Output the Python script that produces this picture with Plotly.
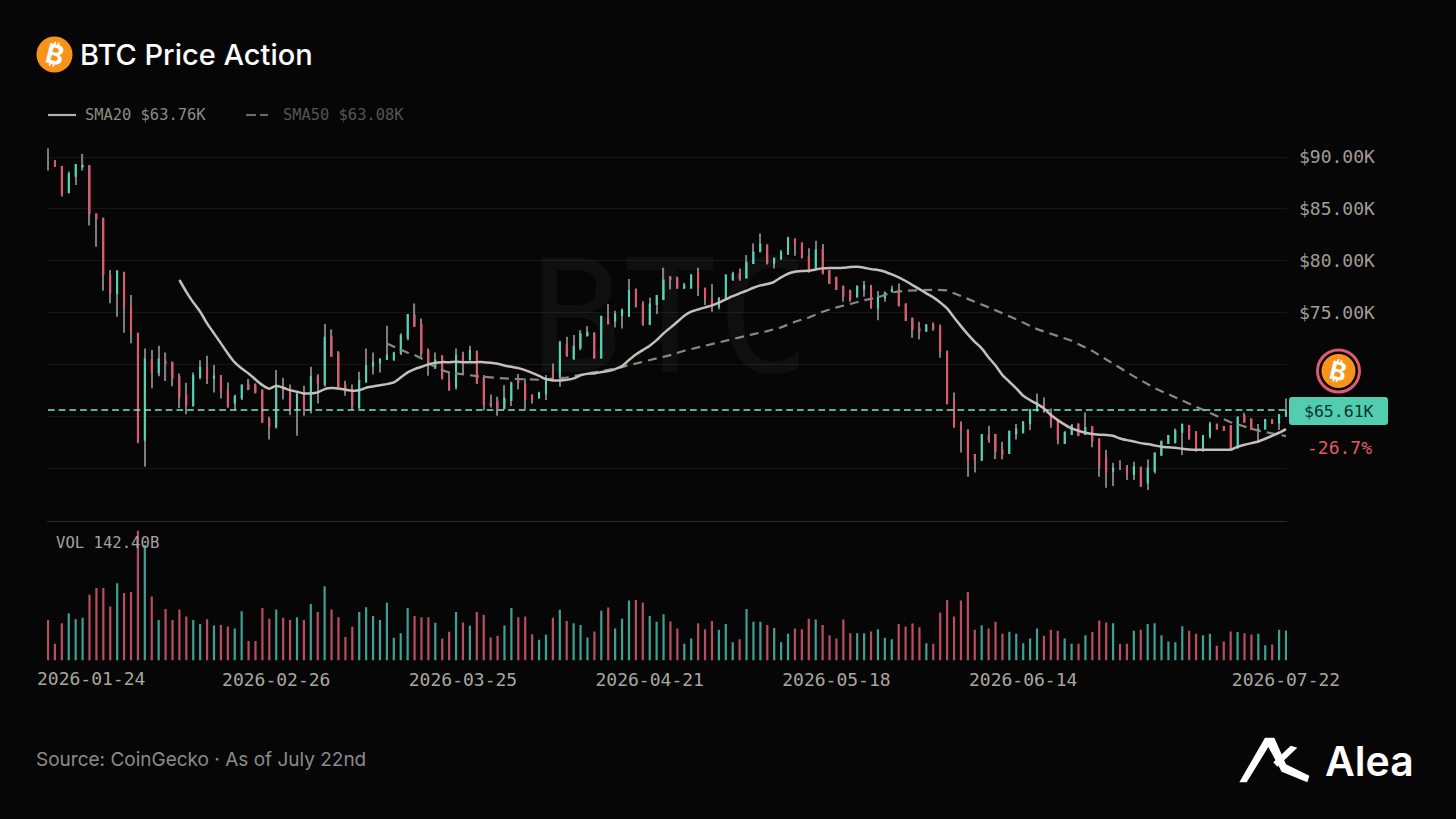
import pandas as pd
import plotly.graph_objects as go

# ---------- data (USD thousands; volume in USD billions) ----------
dates = pd.date_range("2026-01-24", "2026-07-22", freq="D")

opens = [
 89.45,89.65,89.13,86.5,88.1,89.0,89.2,84.56,84.15,78.68,
 76.8,78.88,75.66,73.05,62.64,70.5,69.13,70.35,70.26,68.88,
 67.04,66.0,68.71,69.77,68.62,68.97,67.52,66.24,66.72,68.07,
 68.07,67.59,64.79,63.92,67.91,67.46,65.6,67.2,65.66,68.81,
 68.01,72.73,71.15,68.07,67.52,65.75,68.26,69.77,70.09,70.42,
 70.42,71.06,72.5,74.82,73.89,71.38,69.61,70.83,68.39,67.75,
 70.96,70.42,71.32,68.81,66.3,66.49,65.69,66.46,68.65,68.16,
 67.04,66.72,67.13,69.29,68.71,71.96,70.51,71.54,72.73,73.08,
 70.58,74.43,74.11,74.66,74.6,77.26,75.88,73.79,75.72,76.2,
 78.45,78.39,77.33,77.33,78.94,77.39,76.36,75.5,76.36,78.13,
 78.78,78.29,79.68,80.87,81.57,79.74,80.13,80.61,82.15,81.67,
 80.45,79.26,81.12,79.1,78.45,77.59,77.17,76.46,77.23,77.65,
 75.4,76.36,77.0,77.23,75.88,74.5,73.57,73.15,73.89,73.69,
 71.32,66.65,64.24,63.73,61.35,60.7,63.18,63.28,61.8,61.35,
 63.25,63.35,64.25,65.53,66.24,65.37,64.57,62.32,63.19,64.31,
 63.19,64.05,62.86,61.1,59.65,59.91,60.13,59.33,60.13,58.52,
 59.65,61.19,62.32,62.45,63.41,64.15,63.44,61.9,63.03,64.25,
 64.05,64.15,61.9,65.1,64.79,63.6,63.73,64.7,64.31,64.96]

closes = [
 89.25,89.07,86.33,88.42,89.33,89.23,84.5,84.0,78.6,76.85,
 79.04,75.56,73.05,62.54,70.58,69.2,70.58,70.03,68.65,66.82,
 66.08,68.97,69.77,68.58,68.94,67.3,65.92,66.98,68.07,67.59,
 67.27,64.37,63.99,67.91,67.46,65.66,67.14,65.6,68.88,68.17,
 72.67,70.74,67.85,67.36,65.92,68.49,69.93,70.25,70.58,70.96,
 71.15,72.83,74.85,73.63,71.06,69.93,70.48,68.58,67.52,70.9,
 70.42,71.38,68.17,66.08,66.01,65.75,66.78,68.26,68.2,66.56,
 66.56,67.3,68.71,68.58,72.18,70.8,71.8,73.0,73.15,70.58,
 74.66,73.89,74.92,75.24,77.17,75.5,73.79,75.88,76.69,78.2,
 78.13,77.33,77.71,78.68,77.33,76.2,75.72,76.46,78.68,78.78,
 78.23,79.9,80.87,81.67,79.74,80.29,80.87,82.25,81.51,80.29,
 79.1,81.09,78.78,77.75,77.17,76.52,76.2,77.59,77.65,75.4,
 76.52,77.0,77.26,75.62,74.18,73.31,73.15,73.86,73.37,71.22,
 66.17,63.92,63.66,60.77,60.77,63.28,62.7,61.57,61.26,63.6,
 63.83,64.47,65.69,66.4,65.37,64.31,62.77,63.51,64.15,63.09,
 63.93,62.54,59.97,59.55,60.07,59.81,59.33,60.2,58.2,60.07,
 61.51,62.64,63.19,63.67,64.25,62.77,61.9,63.19,64.31,63.73,
 63.6,61.74,64.95,64.38,63.67,63.83,64.73,64.25,65.21,65.61]

highs = [
 90.84,89.72,89.13,88.6,89.33,90.3,89.2,84.56,84.15,79.1,
 79.1,78.94,76.7,73.05,71.54,71.4,71.8,71.15,70.26,69.13,
 68.23,69.23,70.4,70.84,69.94,68.97,68.26,67.07,68.07,68.59,
 68.17,67.59,64.95,69.45,68.71,68.07,67.36,67.94,69.77,69.04,
 73.89,73.38,71.28,68.43,68.07,69.29,71.54,71.15,70.58,73.73,
 71.22,73.0,74.85,75.88,74.43,71.54,71.15,70.9,69.35,71.54,
 71.22,71.8,71.32,68.97,67.1,66.88,68.0,68.33,69.07,68.65,
 67.13,67.36,68.97,70.09,72.28,72.67,72.83,73.31,73.69,73.08,
 74.7,75.82,75.17,75.4,78.23,77.33,76.1,76.46,76.69,79.32,
 78.52,78.45,77.87,78.7,79.32,77.39,77.75,76.46,78.68,78.94,
 79.26,80.54,81.67,82.63,81.57,80.29,81.03,82.31,82.15,81.77,
 81.19,81.93,81.6,79.1,78.45,77.59,77.2,77.62,78.04,77.65,
 77.07,77.0,77.59,77.81,75.88,74.5,74.11,73.9,74.05,73.86,
 71.32,67.3,64.53,63.73,61.35,63.3,64.08,63.28,62.54,63.6,
 64.25,64.54,65.69,67.2,66.82,65.76,64.63,63.55,64.25,64.31,
 65.37,64.05,62.86,61.74,60.52,60.77,60.29,60.61,60.13,60.84,
 61.51,62.64,63.19,63.83,64.31,64.15,63.57,63.19,64.47,64.31,
 64.05,64.15,65.0,65.34,64.79,64.25,64.73,64.7,65.21,66.72]

lows = [
 88.7,89.07,86.2,86.5,87.3,88.7,83.4,81.35,77.1,75.9,
 74.6,73.05,72.03,62.4,60.13,67.7,68.87,68.4,67.9,65.8,
 65.2,65.92,68.58,68.1,67.3,66.72,65.82,65.6,66.56,67.52,
 67.2,64.37,62.77,63.83,66.62,65.11,63.12,65.05,65.27,66.24,
 67.85,70.74,67.78,66.98,65.66,65.75,68.26,69.03,69.22,70.42,
 70.32,70.9,72.34,73.63,70.67,68.9,69.55,68.58,67.46,67.59,
 68.97,70.35,68.1,65.59,65.85,65.05,65.66,65.98,67.59,65.69,
 66.24,66.72,66.56,68.49,67.84,70.74,70.42,71.38,72.67,70.58,
 70.58,73.86,73.57,73.47,74.6,75.5,73.73,73.79,74.85,76.2,
 77.23,77.3,77.26,77.3,76.59,75.72,75.08,75.33,76.27,78.04,
 78.07,78.29,79.68,80.8,79.64,79.26,80.06,80.54,80.48,80.22,
 78.84,79.1,78.68,77.75,77.17,76.04,76.04,76.46,76.52,75.4,
 74.27,76.04,76.91,75.62,74.18,72.57,72.41,73.15,73.24,70.64,
 66.17,63.92,61.51,59.16,59.58,60.7,62.44,60.87,60.84,61.35,
 62.77,63.35,63.67,65.44,65.37,63.89,62.29,62.32,63.19,63.09,
 63.19,62.0,59.17,58.1,58.27,59.81,58.85,58.85,58.2,57.88,
 59.49,61.19,62.32,62.38,61.26,62.77,61.58,61.58,62.86,63.73,
 63.6,61.74,61.9,64.38,63.67,62.54,63.73,64.25,63.67,64.96]

volumes = [
 193,79,177,225,196,203,312,345,344,256,
 367,321,325,616,549,304,192,245,192,242,
 209,192,174,196,166,169,161,152,234,93,
 93,249,198,242,203,192,206,192,268,231,
 353,242,206,112,160,230,253,212,192,274,
 108,130,249,212,206,206,179,104,136,230,
 180,165,230,217,109,117,166,249,206,209,
 125,98,122,203,241,188,177,169,109,138,
 236,252,152,198,285,288,275,212,184,220,
 185,152,79,104,177,149,188,146,174,87,
 101,245,184,184,169,154,87,127,152,149,
 198,195,169,120,104,195,130,130,130,138,
 149,108,101,174,161,176,158,82,79,228,
 288,209,285,325,146,168,152,184,127,136,
 127,82,104,152,117,146,141,104,79,79,
 120,135,190,180,177,78,79,141,146,174,
 177,120,90,87,163,141,127,120,127,70,
 90,138,135,130,123,127,73,76,146,142.4]

sma20_days = list(range(19, 180))
sma20 = [
 78.14,77.0,75.98,75.08,73.96,72.99,72.03,71.06,70.19,69.61,
 69.13,68.55,68.0,67.65,67.94,67.75,67.52,67.36,67.2,67.2,
 67.3,67.62,67.72,67.68,67.56,67.46,67.5,67.75,67.87,68.0,
 68.1,68.26,68.74,69.23,69.55,69.77,70.0,70.16,70.22,70.22,
 70.25,70.22,70.22,70.22,70.22,70.16,70.06,69.9,69.77,69.64,
 69.45,69.19,68.9,68.58,68.45,68.45,68.52,68.65,68.94,69.1,
 69.13,69.26,69.35,69.55,69.84,70.42,70.96,71.38,71.8,72.34,
 72.99,73.55,74.11,74.69,75.08,75.3,75.5,75.69,75.95,76.27,
 76.59,76.85,77.1,77.39,77.62,77.75,77.97,78.39,78.74,78.94,
 79.0,79.03,79.16,79.26,79.29,79.29,79.32,79.39,79.42,79.32,
 79.19,79.1,78.94,78.68,78.39,78.04,77.65,77.26,76.85,76.46,
 75.98,75.4,74.53,73.69,72.89,72.18,71.54,70.67,69.9,68.97,
 68.33,67.69,66.98,66.56,66.18,65.76,65.12,64.63,64.2,63.83,
 63.6,63.41,63.28,63.22,63.19,63.12,62.86,62.7,62.57,62.41,
 62.32,62.19,62.06,62.0,61.96,61.87,61.8,61.77,61.77,61.77,
 61.77,61.77,61.77,62.06,62.25,62.41,62.57,62.83,63.12,63.41,63.76]

sma50_days = list(range(49, 91)) + [92,94,96,98,100,102,104,106,108,110,112,114,116,118,120,122,
 124,126,128,130,132,134,136,138,140,143,148,151,154,157,160,164,167,171,175,179]
sma50 = [
 72.02,71.7,71.38,71.12,70.9,70.58,70.09,69.77,69.45,69.22,
 69.13,69.0,68.94,68.87,68.81,68.74,68.68,68.65,68.61,68.58,
 68.55,68.52,68.52,68.55,68.61,68.65,68.74,68.87,69.0,69.13,
 69.26,69.35,69.45,69.58,69.74,69.93,70.09,70.22,70.38,70.58,
 70.74,70.9,
 71.32,71.64,71.96,72.28,72.67,72.92,73.21,73.57,74.11,74.53,75.08,75.5,75.82,76.2,76.46,76.94,
 77.1,77.17,77.2,77.14,76.62,76.04,75.5,74.95,74.35,73.4,72.28,71.3,70.05,68.85,67.72,66.5,65.6,64.42,63.6,63.08]

last_price = 65.61
price_grid = [60, 65, 70, 75, 80, 85, 90]
price_tick_text = ["", "", "", "$75.00K", "$80.00K", "$85.00K", "$90.00K"]
date_tick_idx = [33, 60, 87, 114, 141, 179]

# ---------- style ----------
W, H = 1456, 819
BG = "#060606"
TEAL = "#52d3b6"
RED = "#e0596e"
TEAL_V = "#3f9f93"
RED_V = "#b94d60"
WICK = "#7c7c7c"
MONO = "DejaVu Sans Mono"
SANS = "Inter"
ORANGE = "#f7931a"

def px(x): return x / W
def py(y): return 1 - y / H

PX_PER_DAY = (1286 - 48) / 179
pad = pd.Timedelta(days=1 / PX_PER_DAY)
DAY_MS = 86400000
lows_s, highs_s = pd.Series(lows), pd.Series(highs)
vol_colors = [TEAL_V if c >= o else RED_V for o, c in zip(opens, closes)]

fig = go.Figure()
# wicks
fig.add_trace(go.Bar(x=dates, base=lows, y=(highs_s - lows_s).tolist(), width=DAY_MS * 0.17,
                     marker=dict(color=WICK, line=dict(width=0)), showlegend=False,
                     xaxis="x", yaxis="y", name="range"))
# bodies
fig.add_trace(go.Candlestick(x=dates, open=opens, high=highs, low=lows, close=closes,
                             increasing=dict(fillcolor=TEAL, line=dict(color=TEAL, width=0)),
                             decreasing=dict(fillcolor=RED, line=dict(color=RED, width=0)),
                             whiskerwidth=0, showlegend=False, xaxis="x", yaxis="y", name="BTC"))
fig.add_trace(go.Scatter(x=dates[sma50_days], y=sma50, mode="lines", name="SMA50", showlegend=False,
                         line=dict(color="#8a8884", width=2.2, dash="9px,6px")))
fig.add_trace(go.Scatter(x=dates[sma20_days], y=sma20, mode="lines", name="SMA20", showlegend=False,
                         line=dict(color="#c4c0b8", width=2.5, shape="spline", smoothing=0.5)))
fig.add_trace(go.Bar(x=dates, y=volumes, width=DAY_MS * 0.32, marker=dict(color=vol_colors, line=dict(width=0)),
                     showlegend=False, xaxis="x2", yaxis="y2", name="Volume"))

shapes = [
    dict(type="line", xref="x", yref="y", x0=dates[0], x1=dates[-1], y0=last_price, y1=last_price,
         line=dict(color="#7fe3cc", width=1.5, dash="6.7px,4px"), layer="above"),
    # legend keys
    dict(type="line", xref="paper", yref="paper", x0=px(48), x1=px(76), y0=py(115), y1=py(115),
         line=dict(color="#b5b2ab", width=2.2)),
    dict(type="line", xref="paper", yref="paper", x0=px(246), x1=px(256), y0=py(115), y1=py(115),
         line=dict(color="#6a6a68", width=2.2)),
    dict(type="line", xref="paper", yref="paper", x0=px(260), x1=px(268), y0=py(115), y1=py(115),
         line=dict(color="#6a6a68", width=2.2)),
    # title icon
    dict(type="circle", xref="paper", yref="paper", x0=px(36.5), x1=px(72.5), y0=py(72.5), y1=py(36.5),
         fillcolor=ORANGE, line=dict(width=0)),
    # price marker icon
    dict(type="circle", xref="paper", yref="paper", x0=px(1317.5), x1=px(1359.5), y0=py(392), y1=py(350),
         fillcolor=BG, line=dict(color=RED, width=3)),
    dict(type="circle", xref="paper", yref="paper", x0=px(1321.5), x1=px(1355.5), y0=py(388), y1=py(354),
         fillcolor=ORANGE, line=dict(width=0)),
    # price badge
    dict(type="path", xref="paper", yref="paper",
         path=f"M {px(1292)} {py(397)} L {px(1385)} {py(397)} Q {px(1388)} {py(397)} {px(1388)} {py(400)} "
              f"L {px(1388)} {py(422)} Q {px(1388)} {py(425)} {px(1385)} {py(425)} L {px(1292)} {py(425)} "
              f"Q {px(1289)} {py(425)} {px(1289)} {py(422)} L {px(1289)} {py(400)} Q {px(1289)} {py(397)} {px(1292)} {py(397)} Z",
         fillcolor="#52cdaf", line=dict(width=0)),
]
for pts in ([(58,172),(135,38),(163,38),(198,118),(268,152),(262,172),(185,140),(145,66),(80,172)],
            [(160,112),(212,62),(232,68),(172,125)]):
    d = "M " + " L ".join(f"{px(1220 + a / 3)} {py(725 + b / 3)}" for a, b in pts) + " Z"
    shapes.append(dict(type="path", xref="paper", yref="paper", path=d, fillcolor="white", line=dict(width=0)))

def note(text, x, y, size, color, font=MONO, xanchor="left", weight=None, **kw):
    f = dict(family=font, size=size, color=color)
    if weight:
        f["weight"] = weight
    return dict(text=text, x=px(x), y=py(y), xref="paper", yref="paper", showarrow=False, xanchor=xanchor,
                yanchor="middle", font=f, borderpad=0, **kw)

annotations = [
    note("BTC", 670, 318, 156, "rgba(255,255,255,0.04)", xanchor="center"),
    note("BTC Price Action", 78.5, 55, 29, "#ffffff", font=SANS, weight=500),
    note("₿", 54.5, 54.5, 27, "#ffffff", font="Inter", xanchor="center", textangle=14, weight=700),
    note("₿", 1338.5, 371, 25, "#ffffff", font="Inter", xanchor="center", textangle=14, weight=700),
    note("SMA20 $63.76K", 83.5, 115, 15.4, "#8c8a85"),
    note("SMA50 $63.08K", 281.5, 115, 15.4, "#555553"),
    note("VOL 142.40B", 54.5, 543, 15.6, "#a5a29c"),
    note("2026-01-24", 35.5, 678, 18, "#a9a6a0"),
    note("$65.61K", 1338.5, 411, 16.5, "#06352c", xanchor="center"),
    note("-26.7%", 1339.5, 447.5, 18, RED, xanchor="center"),
    note("Source: CoinGecko · As of July 22nd", 35, 759, 19, "#8b8b8b", font=SANS),
    note("Alea", 1324, 761, 41, "#ffffff", font=SANS, weight=600),
]

fig.update_layout(
    width=W, height=H, autosize=False, margin=dict(l=0, r=0, t=0, b=0, autoexpand=False),
    paper_bgcolor=BG, plot_bgcolor="rgba(0,0,0,0)", showlegend=False, barmode="overlay",
    boxgap=0.57, boxmode="overlay", shapes=shapes, annotations=annotations,
    font=dict(family=MONO),
    xaxis=dict(domain=[px(47), px(1287)], range=[dates[0] - pad, dates[-1] + pad], type="date", anchor="y",
               showticklabels=False, showgrid=False, zeroline=False, showline=True, linecolor="#2c2c2c", linewidth=1,
               rangeslider=dict(visible=False), ticks=""),
    yaxis=dict(domain=[py(521), py(140)], range=[54.9, 91.64], side="right", anchor="x", tickvals=price_grid,
               ticktext=price_tick_text, tickfont=dict(family=MONO, size=18, color="#a09d97"),
               showgrid=True, gridcolor="#151515", gridwidth=1, zeroline=False, showline=False,
               ticks="", ticklabelstandoff=11),
    xaxis2=dict(domain=[px(47), px(1287)], range=[dates[0] - pad, dates[-1] + pad], type="date", anchor="y2",
                matches="x", tickvals=dates[date_tick_idx], ticktext=[dates[i].strftime("%Y-%m-%d") for i in date_tick_idx],
                tickfont=dict(family=MONO, size=18, color="#a9a6a0"), showgrid=False, zeroline=False,
                showline=False, ticks="", ticklabelstandoff=6),
    yaxis2=dict(domain=[py(660.5), py(530)], range=[0, 620], anchor="x2", showticklabels=False, showgrid=False,
                zeroline=False, showline=False, ticks=""),
)

fig.write_html("out.html", config=dict(displayModeBar=False), post_script=(
    "document.documentElement.style.background='%s';document.body.style.background='%s';"
    "document.body.style.margin='0';document.body.style.overflow='hidden';" % (BG, BG)))
